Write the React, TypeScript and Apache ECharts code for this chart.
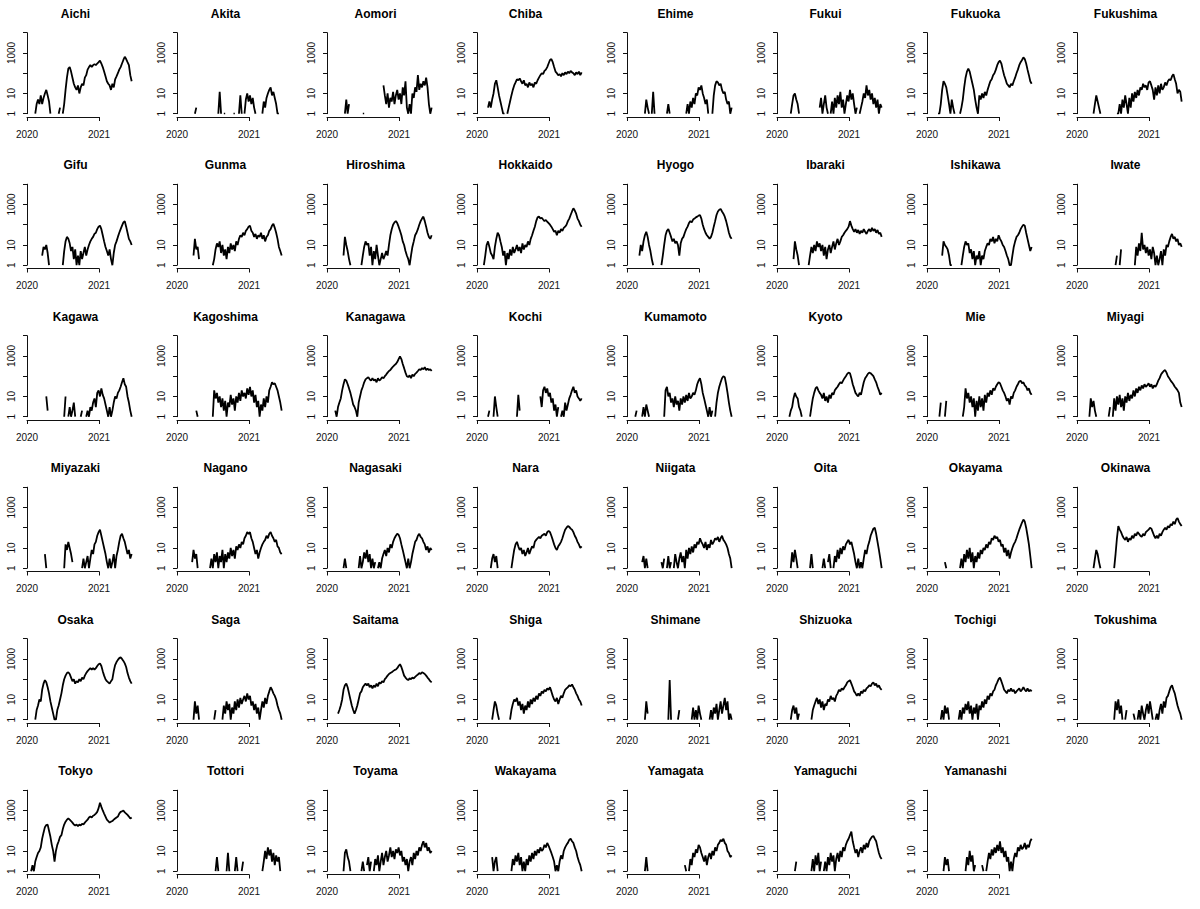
import { useEffect, useRef } from 'react';
import * as echarts from 'echarts';

// Weekly samples (every 7 days from 2020-01-01), daily new cases; 0 = no cases (gap on log axis)
const startDate = '2020-01-01';
const stepDays = 7;

const prefectures = [
  'Aichi', 'Akita', 'Aomori', 'Chiba', 'Ehime', 'Fukui', 'Fukuoka', 'Fukushima',
  'Gifu', 'Gunma', 'Hiroshima', 'Hokkaido', 'Hyogo', 'Ibaraki', 'Ishikawa', 'Iwate',
  'Kagawa', 'Kagoshima', 'Kanagawa', 'Kochi', 'Kumamoto', 'Kyoto', 'Mie', 'Miyagi',
  'Miyazaki', 'Nagano', 'Nagasaki', 'Nara', 'Niigata', 'Oita', 'Okayama', 'Okinawa',
  'Osaka', 'Saga', 'Saitama', 'Shiga', 'Shimane', 'Shizuoka', 'Tochigi', 'Tokushima',
  'Tokyo', 'Tottori', 'Toyama', 'Wakayama', 'Yamagata', 'Yamaguchi', 'Yamanashi',
];

const aichi = [0,0,0,0,0,0,1,3,5,3,8,3,6,10,15,8,4,1,0,0,0,0,0,1,2,0,1,3,15,60,170,200,120,60,30,20,15,25,10,20,30,25,60,80,150,200,250,200,250,280,250,300,350,420,300,200,120,70,40,30,25,15,30,20,50,70,100,150,200,300,450,650,500,350,250,80,40];
const akita = [0,0,0,0,0,0,0,0,0,0,0,0,0,1,2,0,0,0,0,0,0,0,0,0,0,0,0,0,0,0,1,12,1,0,1,1,0,0,0,0,0,1,1,0,0,1,8,1,0,1,5,10,4,8,3,6,2,1,0,0,0,0,1,4,2,6,10,15,20,8,12,6,3,1,1,0,0];
const aomori = [0,0,0,0,0,0,0,0,0,0,0,0,0,1,5,1,3,0,0,0,0,0,0,0,0,0,1,1,0,0,0,0,0,0,0,0,0,0,0,0,0,25,8,3,10,2,6,4,12,3,8,15,5,10,3,20,8,40,2,1,3,1,10,6,20,12,80,15,30,20,40,25,60,20,3,1,2];
const chiba = [0,0,0,0,1,0,1,0,2,4,2,5,10,30,45,20,8,4,2,1,1,0,1,2,4,8,15,25,35,50,45,55,40,30,45,25,30,20,35,25,30,20,35,30,45,60,80,100,90,130,150,200,300,450,500,350,200,120,100,80,90,70,100,80,110,90,120,100,130,110,100,80,110,90,120,80,110];
const ehime = [0,0,0,0,0,0,0,0,0,0,0,0,0,1,5,2,1,0,1,12,1,0,0,0,0,0,0,0,0,1,3,1,0,0,0,0,0,0,0,0,0,0,0,1,3,1,4,2,6,3,10,8,20,15,25,10,6,3,5,1,0,0,1,8,25,40,35,25,30,15,10,12,5,3,4,1,2];
const fukui = [0,0,0,0,0,0,0,0,0,0,1,3,8,10,5,3,1,0,0,0,0,0,0,0,0,0,1,0,0,0,0,2,6,1,3,8,2,1,0,1,4,1,6,2,8,3,12,2,5,1,3,8,4,15,5,10,3,1,2,0,1,2,4,10,6,25,8,15,5,10,3,6,2,5,1,3,2];
const fukuoka = [0,0,0,0,0,0,0,0,1,1,3,15,40,30,20,8,3,1,5,2,1,0,1,0,1,2,5,20,60,120,170,120,60,30,15,5,2,1,8,5,10,6,12,8,15,25,40,50,80,100,150,250,350,420,300,150,80,50,30,25,20,30,25,40,60,100,150,250,350,450,600,500,300,150,80,40,30];
const fukushima = [0,0,0,0,0,0,0,0,0,0,0,0,1,3,8,4,2,1,0,0,0,0,0,0,0,0,0,0,0,1,1,3,1,5,2,8,3,1,6,2,10,4,12,6,15,8,20,15,30,20,25,15,35,40,25,15,5,20,8,25,10,30,15,20,35,25,40,50,45,70,90,50,30,10,15,12,4];
const gifu = [0,0,0,0,0,0,0,0,1,0,0,3,8,6,10,4,1,0,0,0,0,0,1,0,0,0,1,5,15,25,20,12,5,8,2,6,1,3,1,5,2,4,8,3,6,10,15,20,25,35,40,60,80,90,60,30,15,8,5,3,6,2,1,4,10,15,25,40,60,90,130,150,80,40,20,15,10];
const gunma = [0,0,0,0,0,0,0,0,0,0,1,0,3,20,6,8,2,0,0,0,0,0,0,0,0,0,1,2,6,12,8,15,4,10,3,6,2,8,4,12,6,10,5,15,10,20,30,25,40,30,50,60,80,90,50,40,25,35,20,30,25,40,20,30,15,25,30,50,60,90,110,70,40,20,8,5,3];
const hiroshima = [0,0,0,0,0,0,1,0,0,0,0,0,3,25,10,5,2,1,0,0,0,0,0,0,0,1,3,8,15,10,12,3,8,1,5,2,10,3,1,2,4,2,3,5,3,10,30,60,100,130,150,120,80,50,30,15,10,5,3,2,1,3,8,15,30,40,60,100,150,200,250,150,80,40,25,20,30];
const hokkaido = [0,0,0,0,0,1,3,10,15,8,4,3,2,8,20,40,30,15,8,3,5,1,4,2,6,3,8,4,6,10,5,8,4,12,6,10,8,15,10,20,30,50,80,150,230,250,200,220,180,150,170,140,120,100,80,60,45,50,30,50,40,60,50,70,80,100,150,200,300,450,650,500,350,200,150,100,80];
const hyogo = [0,0,0,0,0,0,0,0,0,3,10,5,15,30,45,25,10,5,2,1,0,0,0,0,0,1,3,10,30,50,60,40,25,15,20,12,15,10,3,12,20,25,40,60,80,120,150,130,180,200,230,250,280,300,200,100,60,40,30,25,20,25,40,80,150,300,450,550,600,450,350,250,150,80,40,25,20];
const ibaraki = [0,0,0,0,0,0,0,0,0,0,0,0,2,15,6,3,1,0,0,0,0,0,0,1,3,8,4,10,5,15,8,12,5,10,3,8,2,6,10,4,8,15,6,12,20,10,15,25,30,40,50,60,80,150,90,60,45,60,40,55,35,50,40,60,45,35,50,60,45,70,50,60,40,55,35,40,25];
const ishikawa = [0,0,0,0,0,0,1,0,0,0,0,3,15,10,8,6,3,1,1,0,0,0,0,0,0,1,3,8,15,10,12,4,6,2,5,1,3,2,5,1,3,2,5,8,12,10,20,15,25,12,20,15,30,20,15,10,8,5,3,2,1,1,3,8,15,25,30,40,60,80,100,90,40,20,10,5,8];
const iwate = [0,0,0,0,0,0,0,0,0,0,0,0,0,0,0,0,0,0,0,0,0,0,0,0,0,0,0,0,1,3,0,1,6,0,0,0,0,0,0,0,0,0,1,8,3,12,5,40,6,10,4,8,3,6,2,8,4,1,3,1,2,5,1,6,3,10,8,15,25,35,20,25,15,20,10,12,8];
const kagawa = [0,0,0,0,0,0,0,0,0,0,0,0,0,0,10,2,0,0,0,0,0,0,0,0,0,0,0,1,10,0,1,3,1,2,5,1,0,0,0,1,2,0,0,1,2,1,3,2,5,8,3,15,20,10,25,12,8,4,2,1,3,1,2,5,10,8,15,20,30,50,80,40,30,10,5,2,1];
const kagoshima = [0,0,0,0,0,0,0,0,0,0,0,0,0,0,2,1,0,0,0,0,0,0,0,0,0,0,1,20,8,15,5,10,3,8,2,6,1,5,3,12,4,8,2,10,5,15,6,20,10,15,8,25,12,30,10,20,5,12,3,6,1,4,2,8,3,10,5,20,30,50,40,45,30,20,10,5,2];
const kanagawa = [0,0,1,0,1,0,2,1,3,5,8,20,40,70,60,40,25,15,8,4,3,2,1,5,10,20,30,50,70,80,90,70,60,80,60,70,50,80,60,70,90,80,100,120,150,180,200,250,300,350,400,500,700,950,700,400,250,150,100,90,110,80,120,100,130,150,180,220,200,250,220,280,200,240,200,220,180];
const kochi = [0,0,0,0,0,0,0,0,1,2,0,0,1,10,3,1,0,0,0,0,0,0,0,0,0,0,0,0,0,1,12,2,0,0,0,0,0,0,0,0,0,1,0,0,0,0,10,3,20,30,15,25,10,15,5,8,2,4,1,3,0,1,2,1,5,2,4,8,12,20,30,15,20,10,8,6,8];
const kumamoto = [0,0,0,0,0,0,1,2,0,0,0,1,3,1,4,2,1,0,0,0,0,0,0,0,0,0,0,1,20,30,10,15,5,8,3,10,4,6,2,8,4,10,5,12,6,15,8,10,15,12,20,40,60,80,40,15,8,4,2,1,3,1,2,0,1,5,15,30,50,80,100,90,40,15,5,2,1];
const kyoto = [0,0,0,0,0,0,0,0,0,1,2,3,8,15,10,8,3,2,1,0,0,1,0,0,1,3,8,15,25,30,20,15,12,8,15,6,10,5,12,8,15,12,20,25,30,40,50,45,60,80,100,130,150,140,80,40,25,15,12,10,15,12,25,50,80,100,130,150,140,120,100,70,50,30,20,12,15];
const mie = [0,0,0,0,0,0,0,0,0,1,5,0,0,1,6,0,0,0,0,0,0,0,0,0,0,0,1,3,25,8,15,5,10,3,8,1,6,2,10,3,8,2,12,5,15,10,20,12,25,20,30,40,50,45,30,20,15,10,6,8,4,10,8,15,20,30,40,55,60,45,50,35,30,20,25,15,12];
const miyagi = [0,0,0,0,0,0,0,0,0,1,8,3,6,2,1,0,0,0,0,0,0,0,0,1,3,0,1,8,2,10,4,12,3,8,2,10,5,15,6,12,8,20,10,25,15,30,20,35,25,40,30,35,45,30,40,25,35,30,40,60,80,120,150,180,200,150,100,80,60,50,40,30,25,20,15,5,3];
const miyazaki = [0,0,0,0,0,0,0,0,0,0,0,0,0,5,1,0,0,0,0,0,0,0,0,0,0,0,0,1,15,8,20,10,5,2,0,0,0,0,0,0,1,3,1,2,4,1,3,8,5,15,20,40,60,80,40,20,10,5,2,1,3,1,2,5,1,4,8,20,40,50,30,20,10,5,8,3,5];
const nagano = [0,0,0,0,0,0,0,0,1,0,0,2,8,3,5,1,0,0,0,0,0,0,0,0,1,3,1,5,2,6,1,4,2,8,1,5,2,6,3,10,4,8,3,12,8,15,10,20,15,30,40,60,50,60,30,20,10,5,8,3,6,10,15,20,25,40,30,50,60,40,30,20,25,12,10,6,5];
const nagasaki = [0,0,0,0,0,0,0,0,0,0,0,0,1,3,1,0,0,0,0,0,0,0,0,1,4,1,2,6,3,8,2,5,1,3,1,2,0,1,2,1,3,5,8,4,10,6,15,10,20,30,40,50,45,30,15,8,4,2,1,3,1,2,5,10,20,25,40,50,35,30,20,15,8,12,6,10,8];
const nara = [0,0,0,0,0,0,0,0,0,0,1,3,5,2,4,1,0,0,0,0,0,0,0,0,0,1,3,8,15,20,12,8,10,5,8,4,6,10,5,8,12,10,20,25,30,35,30,40,45,50,40,60,70,60,40,25,15,10,8,12,15,20,30,50,80,100,120,110,90,80,60,40,30,20,15,10,12];
const niigata = [0,0,0,0,0,0,0,0,1,0,0,2,4,1,3,1,0,0,0,0,0,0,0,1,0,2,1,3,0,1,4,1,2,0,1,5,2,1,3,6,2,4,1,8,3,10,5,12,6,15,10,20,15,30,20,15,10,20,8,15,10,25,15,20,30,25,35,20,30,40,25,20,15,10,5,3,1];
const oita = [0,0,0,0,0,0,0,0,0,0,1,6,2,8,3,1,0,0,0,0,0,0,0,0,1,5,1,0,0,0,0,0,0,1,3,1,0,2,5,1,0,1,4,2,8,3,10,5,12,8,15,20,25,15,20,10,5,2,1,3,1,2,1,3,8,5,12,20,40,60,90,100,50,20,8,3,1];
const okayama = [0,0,0,0,0,0,0,0,0,0,0,0,0,2,1,0,0,0,0,0,0,0,0,0,1,3,1,5,2,8,3,10,2,6,1,4,2,6,3,8,5,10,8,15,10,20,15,30,25,40,30,35,20,25,12,15,6,10,4,8,3,6,10,15,20,30,50,80,120,180,250,200,100,40,15,4,1];
const okinawa = [0,0,0,0,0,0,0,1,0,0,0,0,1,3,8,5,2,1,0,0,0,0,0,0,0,0,0,1,5,30,120,80,60,40,30,25,35,20,30,25,40,30,50,40,60,50,40,35,50,40,60,70,80,100,90,60,40,30,40,30,50,40,60,80,100,80,120,100,150,130,200,150,250,300,200,150,120];
const osaka = [0,0,0,0,1,0,1,3,5,10,8,30,60,90,70,40,20,8,4,2,1,1,3,5,10,20,50,100,150,200,220,180,120,80,100,60,80,70,100,80,120,100,150,200,250,300,350,300,350,300,350,450,550,600,450,250,150,100,80,70,60,80,100,250,500,700,900,1100,1200,1000,800,600,400,200,120,80,60];
const saga = [0,0,0,0,0,0,0,0,0,0,0,0,1,8,2,5,1,0,0,0,0,0,0,0,0,0,0,1,3,0,0,0,0,1,5,2,8,3,6,1,4,2,8,3,10,4,12,6,10,15,8,20,10,15,5,8,3,6,2,4,1,3,8,4,12,6,15,25,40,30,20,15,10,5,3,2,1];
const saitama = [0,0,0,0,0,0,1,0,2,3,5,10,30,50,60,40,20,10,5,3,2,3,5,10,20,25,40,50,60,50,60,40,50,35,50,40,60,45,70,60,80,70,100,120,150,180,200,220,250,280,300,350,450,550,400,250,150,120,100,90,110,100,120,110,130,150,170,200,180,220,200,180,150,120,100,80,70];
const shiga = [0,0,0,0,0,0,0,0,0,0,0,1,3,8,5,2,1,0,0,0,0,0,0,0,1,3,6,10,8,12,5,8,3,6,2,5,3,8,4,10,6,12,8,15,10,20,15,25,20,30,25,35,30,40,25,15,10,8,12,6,10,15,12,20,30,35,40,50,45,55,40,30,20,15,10,8,5];
const shimane = [0,0,0,0,0,0,0,0,0,0,0,0,0,1,8,2,0,0,0,0,0,0,0,0,0,0,0,0,0,0,1,90,1,0,0,0,0,1,3,0,0,0,1,0,0,0,0,1,4,1,3,1,5,2,1,0,0,1,0,0,1,3,1,4,2,6,1,3,8,2,5,12,3,8,1,2,1];
const shizuoka = [0,0,0,0,0,0,0,0,0,0,1,3,5,2,4,1,2,0,0,0,0,0,0,0,0,1,3,5,8,12,6,10,4,8,3,6,5,10,8,15,10,12,8,15,20,30,25,35,30,40,50,70,80,90,60,40,25,20,15,20,15,25,20,30,25,35,40,50,45,60,70,50,60,40,50,35,30];
const tochigi = [0,0,0,0,0,0,0,0,0,0,1,3,1,5,2,4,1,0,0,0,0,0,0,1,3,1,4,2,6,3,8,2,5,1,4,2,6,1,5,3,8,4,10,6,15,10,20,15,25,30,50,70,100,120,80,50,30,25,20,30,25,35,25,30,20,25,30,35,25,30,40,30,25,35,25,30,25];
const tokushima = [0,0,0,0,0,0,0,0,0,0,0,0,0,0,0,0,0,0,0,0,0,0,0,0,0,0,0,1,8,3,10,2,5,1,0,1,3,0,1,0,0,2,1,0,1,3,1,5,2,1,3,6,2,8,3,1,0,1,2,1,3,6,2,8,4,12,15,25,40,50,30,20,10,5,3,2,1];
const tokyo = [0,0,0,1,2,1,3,5,8,10,15,40,80,150,190,200,100,50,20,10,3,10,20,30,50,60,120,200,280,350,400,350,300,250,200,180,200,170,200,180,220,200,250,300,350,450,500,450,550,600,700,850,1300,2400,1500,1000,700,500,350,300,250,280,300,350,400,450,500,700,850,900,1000,800,700,600,500,400,450];
const tottori = [0,0,0,0,0,0,0,0,0,0,0,0,0,0,0,0,0,0,0,0,0,0,0,0,0,0,0,0,1,5,1,0,0,0,0,0,1,8,1,0,0,0,1,5,1,0,0,1,3,0,0,0,0,0,0,0,0,0,0,1,0,0,1,3,10,4,15,6,12,3,8,2,6,3,5,1,0];
const toyama = [0,0,0,0,0,0,0,0,0,0,0,0,1,8,12,5,3,1,0,0,0,0,0,0,0,1,3,1,0,2,5,1,3,0,1,4,2,6,1,3,8,2,5,10,3,6,15,5,10,4,12,8,15,6,10,3,5,2,4,1,3,5,2,8,4,10,6,15,10,20,30,15,25,10,15,8,10];
const wakayama = [0,0,0,0,0,0,0,0,0,0,0,5,1,3,5,1,0,0,0,0,0,0,0,0,0,1,4,2,6,3,8,2,5,1,3,1,4,2,6,3,8,4,10,6,12,8,15,10,12,20,15,25,18,12,8,5,3,1,2,1,3,6,4,10,15,20,25,35,40,30,25,15,10,5,3,2,1];
const yamagata = [0,0,0,0,0,0,0,0,0,0,0,0,0,1,5,1,0,0,0,0,0,0,0,0,1,0,0,1,0,0,0,0,1,0,0,0,0,0,0,0,1,0,2,1,0,1,4,2,8,5,12,8,20,15,8,5,3,6,2,5,8,4,10,6,15,10,20,25,35,30,40,25,20,10,8,5,6];
const yamaguchi = [0,0,0,0,0,0,0,0,0,0,0,0,0,1,3,0,0,0,0,0,0,0,0,0,0,1,4,1,6,2,8,1,3,0,1,3,1,5,2,8,3,6,1,4,8,3,10,5,15,10,20,30,40,60,90,30,15,8,12,5,10,15,8,20,12,25,15,30,40,50,55,40,30,15,8,5,4];
const yamanashi = [0,0,0,0,0,0,0,0,0,1,0,0,1,5,2,4,1,0,1,0,1,0,1,0,0,0,0,0,1,5,2,10,3,6,1,2,0,0,1,0,2,1,0,1,3,8,4,12,6,15,8,20,10,30,8,15,5,10,3,5,1,3,1,4,8,5,15,10,20,12,15,25,12,20,15,30,40];

const seriesValues = [
  aichi, akita, aomori, chiba, ehime, fukui, fukuoka, fukushima,
  gifu, gunma, hiroshima, hokkaido, hyogo, ibaraki, ishikawa, iwate,
  kagawa, kagoshima, kanagawa, kochi, kumamoto, kyoto, mie, miyagi,
  miyazaki, nagano, nagasaki, nara, niigata, oita, okayama, okinawa,
  osaka, saga, saitama, shiga, shimane, shizuoka, tochigi, tokushima,
  tokyo, tottori, toyama, wakayama, yamagata, yamaguchi, yamanashi,
];

const yTickLabels: Record<number, string> = { 0: '1', 1: '10', 3: '1000' };
const xTickLabels = ['2020', '2021'];
const daysIn2020 = 366;

const COLS = 8;
const CELL_W = 150;
const CELL_H = 151.5;
const FONT = '"Liberation Sans", Arial, Helvetica, sans-serif';
const INK = '#111';

export default function App() {
  const ref = useRef<HTMLDivElement>(null);
  useEffect(() => {
    const chart = echarts.init(ref.current!, null, { renderer: 'svg' });
    const grid: any[] = [];
    const xAxis: any[] = [];
    const yAxis: any[] = [];
    const series: any[] = [];
    const graphic: any[] = [];
    const dataMaxDay = 540;
    const pxPerDay = 72 / daysIn2020;

    prefectures.forEach((name, i) => {
      const r = Math.floor(i / COLS);
      const c = i % COLS;
      const ox = c * CELL_W;
      const oy = r * CELL_H;
      const g0 = grid.length;
      grid.push({ left: ox + 27, top: oy + 32.7, width: dataMaxDay * pxPerDay, height: 81 });
      const g1 = grid.length;
      grid.push({ left: ox + 27, top: oy + 30, width: 72, height: 87 });

      xAxis.push({ gridIndex: g0, type: 'value', min: 0, max: dataMaxDay, show: false });
      yAxis.push({
        gridIndex: g0, type: 'log', logBase: 10, min: 1, max: 10000, offset: 4,
        axisLine: { show: true, lineStyle: { color: INK, width: 1 } },
        axisTick: { show: true, length: 4, lineStyle: { color: INK, width: 1 } },
        splitLine: { show: false },
        axisLabel: {
          rotate: 90, margin: 7, color: INK, fontFamily: FONT, fontSize: 10,
          formatter: (v: number) => yTickLabels[Math.round(Math.log10(v))] ?? '',
        },
      });

      xAxis.push({
        gridIndex: g1, type: 'value', min: 0, max: daysIn2020, interval: daysIn2020,
        axisLine: { show: true, onZero: false, lineStyle: { color: INK, width: 1 } },
        axisTick: { show: true, length: 4, lineStyle: { color: INK, width: 1 } },
        splitLine: { show: false },
        axisLabel: {
          margin: 12, color: INK, fontFamily: FONT, fontSize: 10,
          showMinLabel: true, showMaxLabel: true,
          formatter: (v: number) => (v === 0 ? xTickLabels[0] : v === daysIn2020 ? xTickLabels[1] : ''),
        },
      });
      yAxis.push({ gridIndex: g1, type: 'value', show: false });

      series.push({
        type: 'line',
        xAxisIndex: g0,
        yAxisIndex: g0,
        data: seriesValues[i].map((v, k) => [k * stepDays, v > 0 ? v : null]),
        showSymbol: false,
        connectNulls: false,
        silent: true,
        lineStyle: { color: '#000', width: 1.8 },
      });

      graphic.push({
        type: 'text',
        x: ox + 75.5,
        y: oy + 13.5,
        silent: true,
        style: {
          text: name, fill: '#000', font: `bold 12px ${FONT}`,
          align: 'center', verticalAlign: 'middle',
        },
      });
    });

    chart.setOption({
      animation: false,
      backgroundColor: '#fff',
      grid, xAxis, yAxis, series, graphic,
    });
    return () => chart.dispose();
  }, []);
  return (
    <div
      ref={ref}
      data-start={startDate}
      style={{ position: 'fixed', left: 0, top: 0, width: 1200, height: 909, background: '#fff' }}
    />
  );
}
